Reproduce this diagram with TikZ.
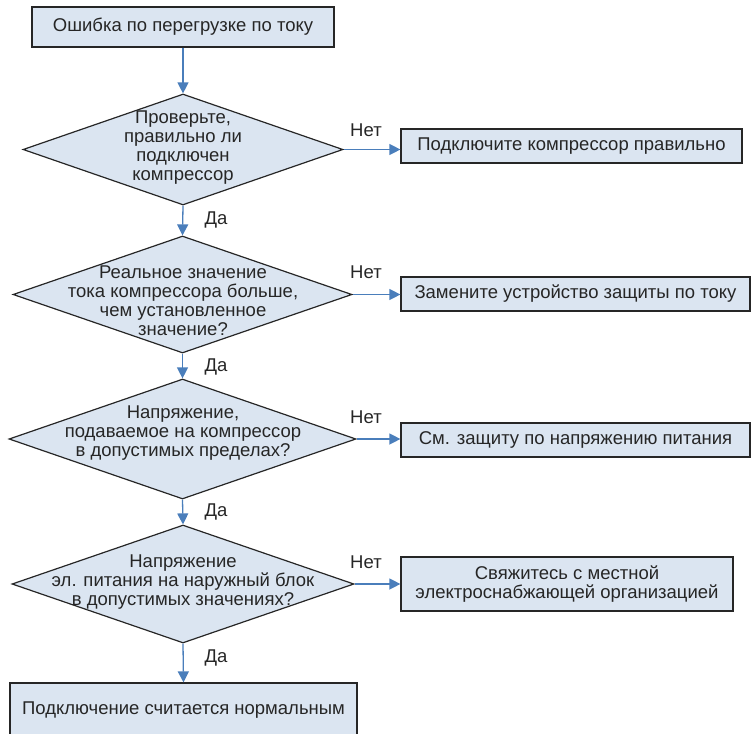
\documentclass[tikz,border=0pt]{standalone}
\usepackage{fontspec}
\setmainfont{Liberation Sans}
\usetikzlibrary{shapes.geometric, arrows.meta, positioning, calc}
\definecolor{boxfill}{HTML}{DBE5F1}
\definecolor{flowblue}{HTML}{4A7EBB}
\definecolor{edgegray}{HTML}{262626}

\begin{document}
\begin{tikzpicture}[x=1pt, y=-1pt,
        font=\fontsize{18.5}{19}\selectfont, text=black!85,
        box/.style={draw=edgegray, fill=boxfill, line width=1.2pt, inner sep=0pt, align=center},
        decision/.style={diamond, draw=edgegray, fill=boxfill, line width=1.2pt, inner sep=0pt},
        flow/.style={draw=flowblue, line width=1.3pt, -{Triangle[length=11pt, width=11pt]}}]

        % ==========================================
        % Frame of the page
        % ==========================================
        \clip (0,0) rectangle (753,734);

        % ==========================================
        % MAIN COLUMN: Start and Decisions
        % ==========================================
        % 1. Start box
        \node[box, minimum width=302pt, minimum height=40pt] (start) at (183,27) {Ошибка по перегрузке по току};

        % 2. Decision: compressor connected?
        \node[decision, minimum width=320pt, minimum height=111pt] (chk1) at (183,149.5) {};
        \node[align=center] (txt1) at (183,148) {Проверьте,\\правильно ли\\подключен\\компрессор};

        % 3. Decision: real current vs. set value
        \node[decision, minimum width=339pt, minimum height=117pt] (chk2) at (182.5,294.5) {};
        \node[align=center] (txt2) at (183,301) {Реальное значение\\тока компрессора больше,\\чем установленное\\значение?};

        % 4. Decision: compressor voltage
        \node[decision, minimum width=347pt, minimum height=120pt] (chk3) at (182.5,439) {};
        \node[align=center] (txt3) at (183,433) {Напряжение,\\подаваемое на компрессор\\в допустимых пределах?};

        % 5. Decision: outdoor unit supply voltage
        \node[decision, minimum width=342pt, minimum height=118pt] (chk4) at (183,584) {};
        \node[align=center] (txt4) at (183,582) {Напряжение\\эл. питания на наружный блок\\в допустимых значениях?};

        % 6. End box
        \node[box, minimum width=347pt, minimum height=54pt] (done) at (183.5,710) {Подключение считается нормальным};

        % ==========================================
        % RIGHT COLUMN: Actions
        % ==========================================
        \node[box, minimum width=341pt, minimum height=34pt] (fix1) at (571.5,146) {Подключите компрессор правильно};
        \node[box, minimum width=349pt, minimum height=34pt] (fix2) at (575.5,294) {Замените устройство защиты по току};
        \node[box, minimum width=349pt, minimum height=34pt] (fix3) at (575.5,440) {См. защиту по напряжению питания};
        \node[box, minimum width=332pt, minimum height=54pt] (fix4) at (567,584) {Свяжитесь с местной\\электроснабжающей организацией};

        % ==========================================
        % Connectors
        % ==========================================
        \draw[flow] (start.south) -- (chk1.north);
        \draw[flow] (chk1.south) -- (chk2.north);
        \draw[flow] (chk2.south) -- (chk3.north);
        \draw[flow] (chk3.south) -- (chk4.north);
        \draw[flow] (chk4.south) -- (done.north);

        \draw[flow] (chk1.east) -- (chk1.east -| fix1.west);
        \draw[flow] (chk2.east) -- (chk2.east -| fix2.west);
        \draw[flow] (chk3.east) -- (chk3.east -| fix3.west);
        \draw[flow] (chk4.east) -- (chk4.east -| fix4.west);

        % Yes / No labels
        \node (yes1) at (216,220) {Да};
        \node (yes2) at (216,367) {Да};
        \node (yes3) at (216,512) {Да};
        \node (yes4) at (216,658) {Да};

        \node (no1) at (366,130) {Нет};
        \node (no2) at (366,272) {Нет};
        \node (no3) at (366,417) {Нет};
        \node (no4) at (366,562) {Нет};

    \end{tikzpicture}
\end{document}
